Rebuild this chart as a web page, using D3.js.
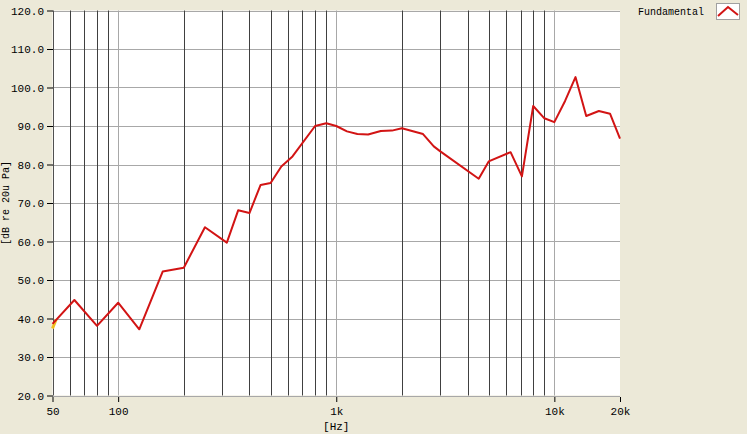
<!DOCTYPE html>
<html><head><meta charset="utf-8">
<script src="https://d3js.org/d3.v7.min.js"></script>
<style>
html,body{margin:0;padding:0;background:#ECE9D8;}
svg{display:block;}
text{font-family:"Liberation Mono","DejaVu Sans Mono",monospace;fill:#000;}
</style></head>
<body>
<script>
// ---- data ----
const freqs = [50, 63, 80, 100, 125, 160, 200, 250, 315, 355, 400, 450, 500, 560, 630, 800, 900, 1000, 1120, 1250, 1400, 1600, 1800, 2000, 2500, 2800, 3000, 4500, 5000, 6300, 7100, 8000, 9000, 10000, 11200, 12500, 14000, 16000, 18000, 20000];
const levels = [38.6, 44.8, 38.1, 44.1, 37.2, 52.2, 53.2, 63.7, 59.7, 68.1, 67.4, 74.7, 75.2, 79.5, 82.1, 90.0, 90.7, 90.0, 88.6, 87.9, 87.8, 88.7, 88.8, 89.4, 87.9, 84.7, 83.4, 76.3, 80.8, 83.2, 76.9, 95.2, 92.0, 91.0, 96.5, 102.7, 92.6, 93.9, 93.2, 86.7];
const startFreqs = [50, 52];          // short yellow trace under the start
const startLevels = [37.4, 39.8];
const yTicks = [20, 30, 40, 50, 60, 70, 80, 90, 100, 110, 120];
const xTicks = [50, 100, 1000, 10000, 20000];
const xTickLabels = ["50", "100", "1k", "10k", "20k"];
const darkGrid = [60, 70, 80, 90, 200, 300, 400, 500, 600, 700, 800, 900, 2000, 3000, 4000, 5000, 6000, 7000, 8000, 9000];
const lightGrid = [100, 1000, 10000];
const seriesName = "Fundamental";

// ---- layout ----
const W = 747, H = 434;
const L = 52.5, R = 620, T = 10.5, B = 395.5;

const svg = d3.select("body").append("svg").attr("width", W).attr("height", H);
svg.append("rect").attr("width", W).attr("height", H).attr("fill", "#ECE9D8");

const x = d3.scaleLog().domain([50, 20000]).range([L, R]);
const y = d3.scaleLinear().domain([20, 120]).range([B, T]);

svg.append("rect").attr("x", L).attr("y", T).attr("width", R - L).attr("height", B - T).attr("fill", "#fff");

const px = v => Math.round(v) + 0.5;

// horizontal grid
svg.append("g").selectAll("line").data(yTicks).join("line")
  .attr("x1", L).attr("x2", R)
  .attr("y1", d => px(y(d))).attr("y2", d => px(y(d)))
  .attr("stroke", "#a8a8a8").attr("stroke-width", 1);
// vertical grid
svg.append("g").selectAll("line").data(lightGrid).join("line")
  .attr("x1", d => px(x(d))).attr("x2", d => px(x(d)))
  .attr("y1", T).attr("y2", B)
  .attr("stroke", "#a8a8a8");
svg.append("g").selectAll("line").data(darkGrid).join("line")
  .attr("x1", d => px(x(d))).attr("x2", d => px(x(d)))
  .attr("y1", T).attr("y2", B)
  .attr("stroke", "#404040");
// left border
svg.append("line").attr("x1", px(L)).attr("x2", px(L)).attr("y1", T).attr("y2", B).attr("stroke", "#505050");

// axes
const yAxis = svg.append("g").attr("transform", `translate(${px(L) - 0.5},0)`)
  .call(d3.axisLeft(y).tickValues(yTicks).tickSize(6).tickPadding(3).tickFormat(d3.format(".1f")));
yAxis.select(".domain").remove();
yAxis.selectAll("line").attr("stroke", "#000");
yAxis.selectAll("text").attr("font-size", 11).attr("font-family", "Liberation Mono, monospace");

const xAxis = svg.append("g").attr("transform", `translate(0,${Math.round(B) + 1})`)
  .call(d3.axisBottom(x).tickValues(xTicks).tickSize(5).tickPadding(5).tickFormat((d, i) => xTickLabels[i]));
xAxis.select(".domain").remove();
xAxis.selectAll("line").attr("stroke", "#000");
xAxis.selectAll("text").attr("font-size", 11).attr("font-family", "Liberation Mono, monospace");

// axis titles
svg.append("text").attr("x", (x(1000))).attr("y", 430).attr("text-anchor", "middle")
  .attr("font-size", 11).text("[Hz]");
svg.append("text").attr("transform", `translate(9,${(T + B) / 2}) rotate(-90)`)
  .attr("text-anchor", "middle").attr("font-size", 10).text("[dB re 20u Pa]");

// series
const line = d3.line().x(d => x(d[0])).y(d => y(d[1]));
svg.append("path").datum(d3.zip(startFreqs, startLevels)).attr("d", line)
  .attr("fill", "none").attr("stroke", "#F0C020").attr("stroke-width", 3);
svg.append("path").datum(d3.zip(freqs, levels)).attr("d", line)
  .attr("fill", "none").attr("stroke", "#D21414").attr("stroke-width", 2).attr("stroke-linejoin", "round");

// legend
svg.append("text").attr("x", 638).attr("y", 15).attr("font-size", 10).text(seriesName);
svg.append("rect").attr("x", 716.5).attr("y", 3.5).attr("width", 23).attr("height", 16)
  .attr("fill", "#fff").attr("stroke", "#a0a0a0");
svg.append("path").attr("d", "M718,16 L728,7 L738,15").attr("fill", "none")
  .attr("stroke", "#D21414").attr("stroke-width", 2);
</script>
</body></html>
